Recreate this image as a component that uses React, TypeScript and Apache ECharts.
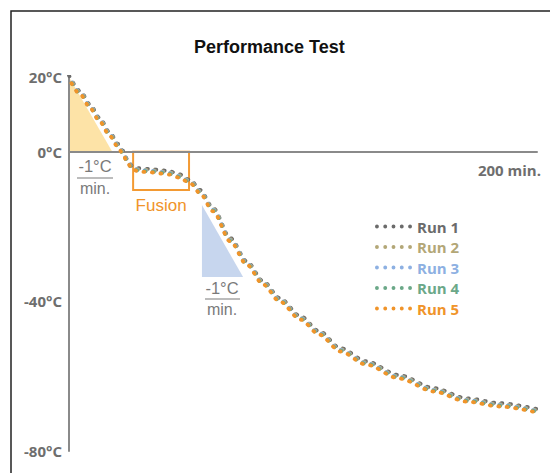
import React, { useEffect, useRef } from "react";
import * as echarts from "echarts";

// time in minutes
const minutes = [0, 5, 9, 13, 17.5, 21, 23, 25, 27, 30, 35, 39, 43, 47, 52, 56, 61.5, 69, 76, 83, 90, 99, 107, 116, 127, 141, 156, 170, 184, 200];

// temperatures (°C) per run
const run1 = [20.4, 16.1, 12.6, 9.1, 5.1, 2.1, 0.3, -2.1, -3.8, -4.4, -4.6, -4.9, -5.2, -6.0, -7.6, -10.2, -15.0, -23.1, -29.3, -34.6, -39.1, -44.0, -48.0, -52.5, -56.0, -59.7, -63.2, -65.9, -67.2, -68.8];
const run2 = [20.2, 15.8, 12.3, 8.8, 4.8, 1.8, 0.0, -2.4, -4.1, -4.7, -4.9, -5.2, -5.5, -6.3, -7.9, -10.5, -15.3, -23.4, -29.6, -34.9, -39.4, -44.3, -48.3, -52.8, -56.3, -60.0, -63.5, -66.2, -67.5, -69.1];
const run3 = [20.0, 15.6, 12.1, 8.6, 4.6, 1.6, -0.2, -2.6, -4.3, -4.9, -5.1, -5.4, -5.7, -6.5, -8.1, -10.7, -15.5, -23.6, -29.8, -35.1, -39.6, -44.5, -48.5, -53.0, -56.5, -60.2, -63.7, -66.4, -67.7, -69.3];
const run4 = [19.8, 15.4, 11.9, 8.4, 4.4, 1.4, -0.4, -2.8, -4.5, -5.1, -5.3, -5.6, -5.9, -6.7, -8.3, -10.9, -15.7, -23.8, -30.0, -35.3, -39.8, -44.7, -48.7, -53.2, -56.7, -60.4, -63.9, -66.6, -67.9, -69.5];
const run5 = [19.6, 15.2, 11.7, 8.2, 4.2, 1.2, -0.6, -3.0, -4.7, -5.3, -5.5, -5.8, -6.1, -6.9, -8.5, -11.1, -15.9, -24.0, -30.2, -35.5, -40.0, -44.9, -48.9, -53.4, -56.9, -60.6, -64.1, -66.8, -68.1, -69.7];

const runs = [run1, run2, run3, run4, run5];
const runNames = ["Run 1", "Run 2", "Run 3", "Run 4", "Run 5"];
const runColors = ["#6b6b6b", "#b3a777", "#8db0e2", "#6ba888", "#f0942a"];

// y tick labels
const yTickLabels: Record<string, string> = { "20": "20°C", "0": "0°C", "-40": "-40°C", "-80": "-80°C" };
const xEndValue = 200;
const xEndLabel = "200 min.";

// annotations in data units [min, °C]
const rampA = [[0, 20], [0, 0], [18.5, 0]];
const rampB = [[56.8, -14.2], [56.8, -33.5], [74.4, -33.5]];
const fusionBox = [[27.4, 0], [51.3, -10.2]];

const dotsIcon =
  "path://M0,2a2,2 0 1,0 4,0a2,2 0 1,0 -4,0z M8.5,2a2,2 0 1,0 4,0a2,2 0 1,0 -4,0z M17,2a2,2 0 1,0 4,0a2,2 0 1,0 -4,0z M25.5,2a2,2 0 1,0 4,0a2,2 0 1,0 -4,0z M34,2a2,2 0 1,0 4,0a2,2 0 1,0 -4,0z";

export default function App() {
  const ref = useRef<HTMLDivElement>(null);

  useEffect(() => {
    const chart = echarts.init(ref.current!, null, { renderer: "svg" });
    const labelFont = "'Open Sans', 'DejaVu Sans', sans-serif";
    const option: any = {
      animation: false,
      backgroundColor: "#ffffff",
      title: {
        text: "Performance Test",
        left: 194,
        top: 38,
        padding: 0,
        textStyle: {
          fontFamily: "'Liberation Sans', Arial, sans-serif",
          fontSize: 18,
          fontWeight: "bold",
          color: "#111111",
        },
      },
      legend: {
        orient: "vertical",
        left: 375,
        top: 218,
        padding: 0,
        itemWidth: 37,
        itemHeight: 4,
        itemGap: 3.5,
        itemTextGap: 14,
        icon: dotsIcon,
        selectedMode: false,
        data: runNames.map((n, i) => ({ name: n, textStyle: { color: runColors[i] } })),
        textStyle: { fontFamily: labelFont, fontWeight: "bold", fontSize: 15, lineHeight: 17 },
      },
      grid: { left: 69, right: 13, top: 77, bottom: 22, containLabel: false, outerBoundsMode: "none" },
      xAxis: {
        type: "value",
        min: 0,
        max: 200,
        interval: 200,
        axisLine: { onZero: true, lineStyle: { color: "#8a8a8a", width: 2 } },
        axisTick: { show: false },
        splitLine: { show: false },
        axisLabel: { show: false },
      },
      yAxis: {
        type: "value",
        min: -80,
        max: 20,
        interval: 20,
        axisLine: { show: true, lineStyle: { color: "#8a8a8a", width: 2 } },
        axisTick: { show: false },
        splitLine: { show: false },
        axisLabel: {
          formatter: (v: number) => yTickLabels[String(v)] ?? "",
          margin: 7,
          color: "#6e6e6e",
          fontFamily: labelFont,
          fontWeight: "bold",
          fontSize: 15,
        },
      },
      series: runs.map((vals, i) => ({
        name: runNames[i],
        type: "line",
        data: minutes.map((m, j) => [m, vals[j]]),
        showSymbol: false,
        symbol: "none",
        smooth: 0.3,
        smoothMonotone: "x",
        color: runColors[i],
        itemStyle: { color: runColors[i] },
        lineStyle: { color: runColors[i], width: 3.8, type: [1, 7.5], cap: "round", dashOffset: i * 0.8 },
        z: 3 + i,
        silent: true,
      })),
    };
    chart.setOption(option);

    const px = (p: number[]) => chart.convertToPixel({ gridIndex: 0 }, p) as number[];
    const triA = rampA.map(px);
    const triB = rampB.map(px);
    const b0 = px(fusionBox[0]);
    const b1 = px(fusionBox[1]);
    const xEnd = px([xEndValue, 0]);
    const grey = "#7a7a7a";
    const fracFont = "'Liberation Sans', Arial, sans-serif";

    chart.setOption({
      graphic: [
        {
          type: "rect",
          shape: { x: 11, y: 11, width: 560, height: 500 },
          style: { fill: "none", stroke: "#222222", lineWidth: 1.5 },
          silent: true,
          z: 0,
        },
        { type: "polygon", shape: { points: triA }, style: { fill: "#fde3a7" }, silent: true, z: 0 },
        { type: "polygon", shape: { points: triB }, style: { fill: "#c7d6ee" }, silent: true, z: 0 },
        {
          type: "rect",
          shape: { x: b0[0], y: b0[1], width: b1[0] - b0[0], height: b1[1] - b0[1] },
          style: { fill: "none", stroke: "#f39a33", lineWidth: 2 },
          silent: true,
          z: 0,
        },
        {
          type: "text",
          x: xEnd[0] + 4,
          y: xEnd[1] + 18,
          style: { text: xEndLabel, fill: "#6e6e6e", fontSize: 15, fontWeight: "bold", fontFamily: labelFont, align: "right", verticalAlign: "middle" },
        },
        {
          type: "text",
          x: (b0[0] + b1[0]) / 2,
          y: 205,
          style: { text: "Fusion", fill: "#f0942a", fontSize: 17, fontFamily: fracFont, align: "center", verticalAlign: "middle" },
        },
        { type: "text", x: 95, y: 166, style: { text: "-1°C", fill: grey, fontSize: 16.5, fontFamily: fracFont, align: "center", verticalAlign: "middle" } },
        { type: "line", shape: { x1: 77, y1: 178, x2: 113, y2: 178 }, style: { stroke: grey, lineWidth: 1.2 } },
        { type: "text", x: 95, y: 188, style: { text: "min.", fill: grey, fontSize: 16, fontFamily: fracFont, align: "center", verticalAlign: "middle" } },
        { type: "text", x: 222, y: 288, style: { text: "-1°C", fill: grey, fontSize: 16.5, fontFamily: fracFont, align: "center", verticalAlign: "middle" } },
        { type: "line", shape: { x1: 205, y1: 299, x2: 240, y2: 299 }, style: { stroke: grey, lineWidth: 1.2 } },
        { type: "text", x: 222, y: 309, style: { text: "min.", fill: grey, fontSize: 16, fontFamily: fracFont, align: "center", verticalAlign: "middle" } },
      ],
    });

    return () => chart.dispose();
  }, []);

  return <div ref={ref} style={{ position: "fixed", left: 0, top: 0, width: 550, height: 473 }} />;
}
